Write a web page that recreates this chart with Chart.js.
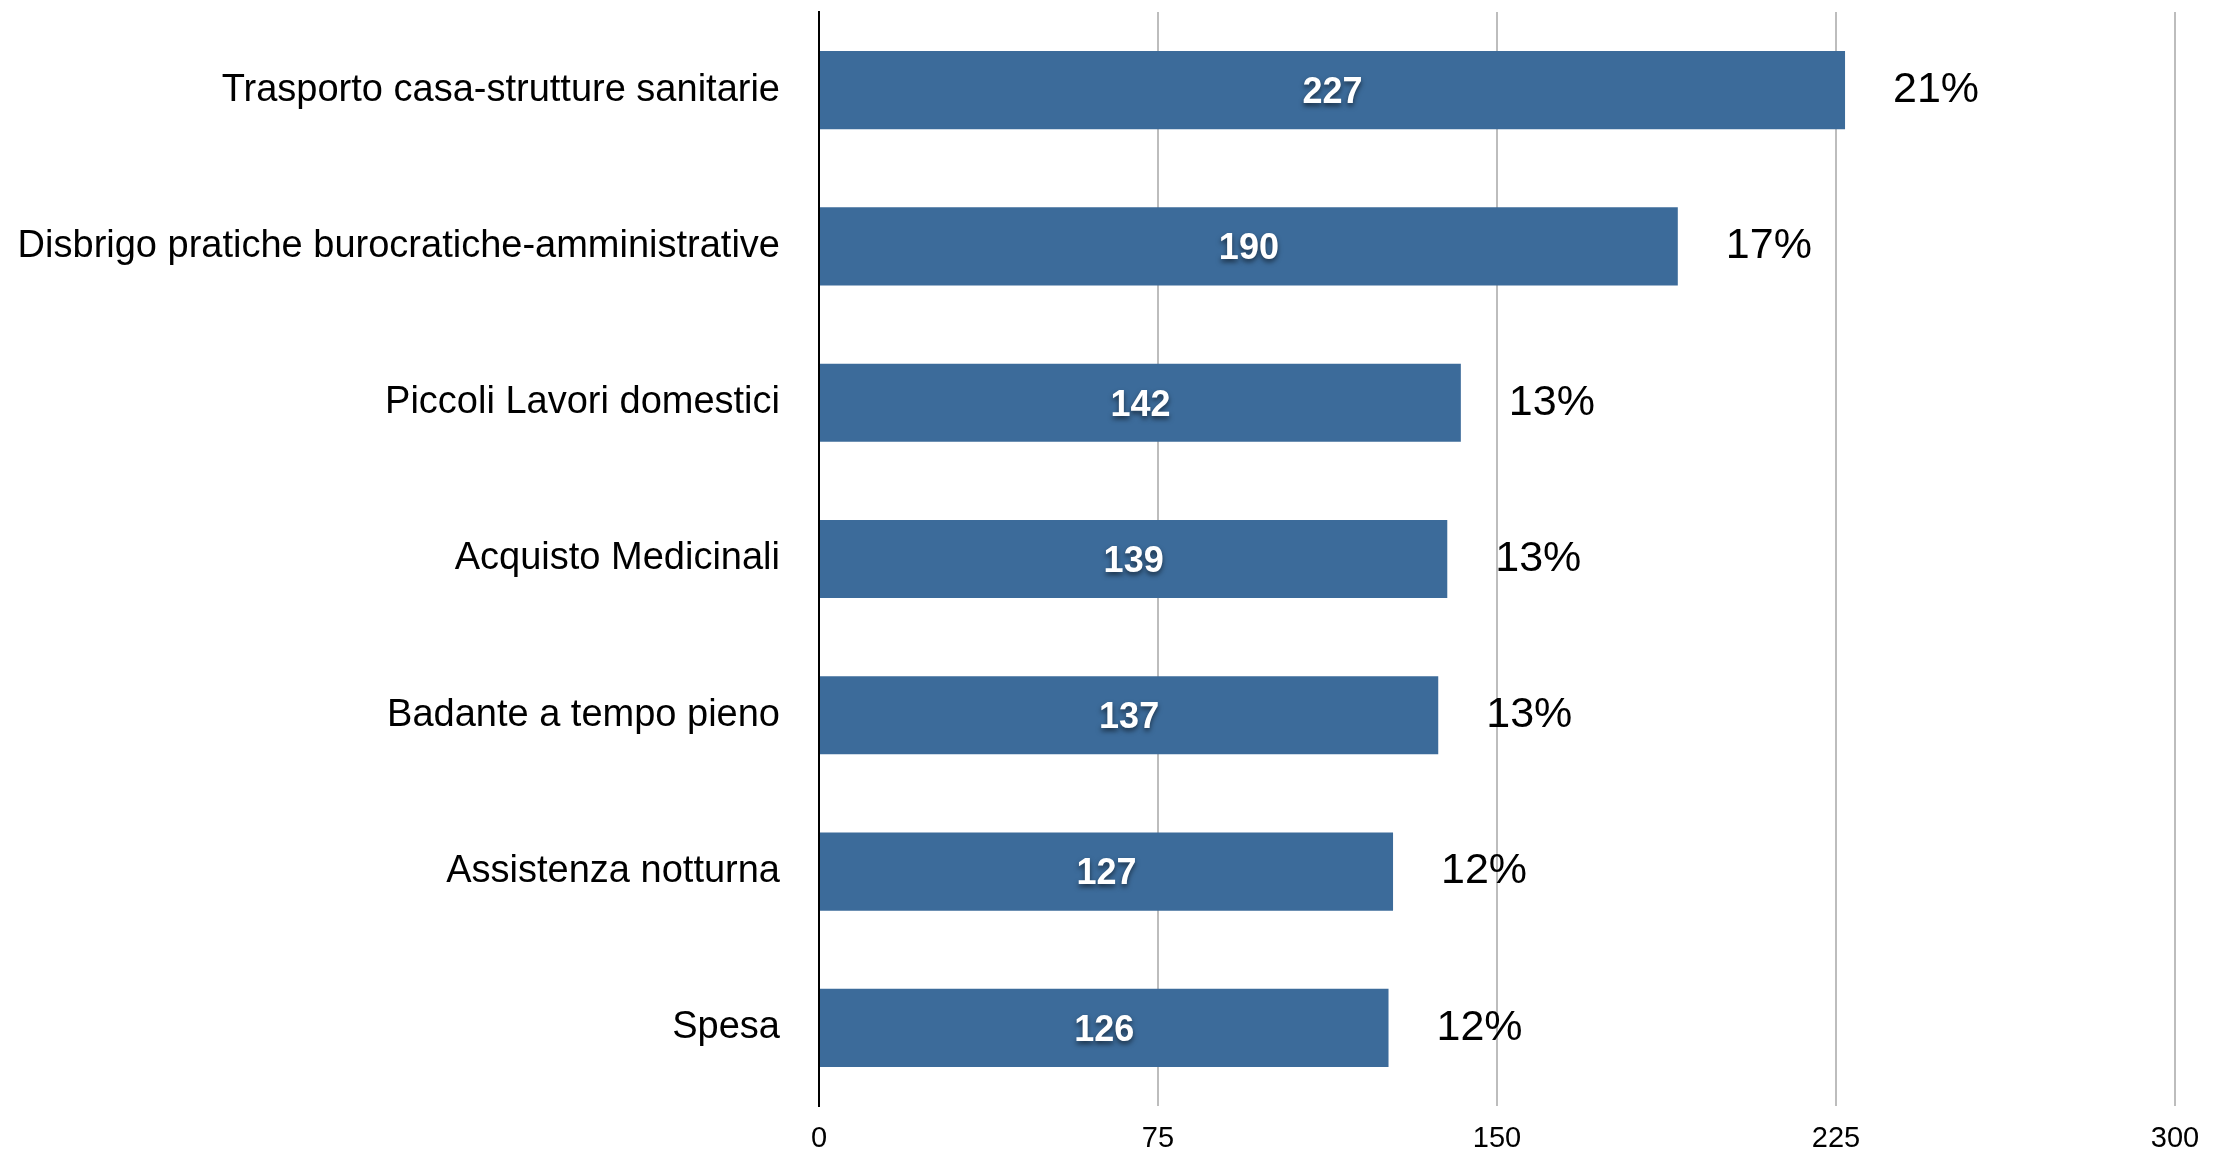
<!DOCTYPE html>
<html lang="it">
<head>
    <meta charset="UTF-8">
    <title>Servizi richiesti</title>
    <script src="https://cdn.jsdelivr.net/npm/chart.js"></script>
    <style>
        html, body { margin: 0; padding: 0; background: #ffffff; }
        .chart-container { position: relative; width: 2219px; height: 1151px; }
    </style>
</head>
<body>
    <div class="chart-container">
        <canvas id="barChart"></canvas>
    </div>

    <script>
        // Data
        const categories = [
            'Trasporto casa-strutture sanitarie',
            'Disbrigo pratiche burocratiche-amministrative',
            'Piccoli Lavori domestici',
            'Acquisto Medicinali',
            'Badante a tempo pieno',
            'Assistenza notturna',
            'Spesa'
        ];
        const counts = [227, 190, 142, 139, 137, 127, 126];
        const percentLabels = ['21%', '17%', '13%', '13%', '13%', '12%', '12%'];
        const xTicks = [0, 75, 150, 225, 300];

        const FONT = '"Liberation Sans", Arial, Helvetica, sans-serif';

        // Draw the value inside each bar and the share to the right of it
        const barLabels = {
            id: 'barLabels',
            afterDatasetsDraw(chart) {
                const ctx = chart.ctx;
                const meta = chart.getDatasetMeta(0);
                meta.data.forEach((bar, i) => {
                    const left = bar.base;
                    const right = bar.x;

                    ctx.save();
                    ctx.font = 'bold 36px ' + FONT;
                    ctx.fillStyle = '#ffffff';
                    ctx.textAlign = 'center';
                    ctx.textBaseline = 'middle';
                    ctx.shadowColor = 'rgba(0, 0, 0, 0.55)';
                    ctx.shadowOffsetY = 3;
                    ctx.shadowBlur = 5;
                    ctx.fillText(String(counts[i]), (left + right) / 2, bar.y + 3);
                    ctx.restore();

                    ctx.save();
                    ctx.font = '43px ' + FONT;
                    ctx.fillStyle = '#000000';
                    ctx.textAlign = 'left';
                    ctx.textBaseline = 'middle';
                    ctx.fillText(percentLabels[i], right + 48, bar.y);
                    ctx.restore();
                });
            }
        };

        const barCtx = document.getElementById('barChart').getContext('2d');
        const barChart = new Chart(barCtx, {
            type: 'bar',
            data: {
                labels: categories,
                datasets: [{
                    data: counts,
                    backgroundColor: '#3c6b9a',
                    borderWidth: 0,
                    barPercentage: 0.5,
                    categoryPercentage: 1.0
                }]
            },
            options: {
                indexAxis: 'y',
                responsive: true,
                maintainAspectRatio: false,
                animation: false,
                layout: {
                    padding: { top: 12, right: 44, left: 0, bottom: 0 }
                },
                plugins: {
                    legend: { display: false },
                    tooltip: { enabled: false }
                },
                scales: {
                    x: {
                        min: 0,
                        max: 300,
                        afterBuildTicks(scale) {
                            scale.ticks = xTicks.map(v => ({ value: v }));
                        },
                        afterFit(scale) {
                            scale.height = 45;
                            scale.paddingLeft = 0;
                            scale.paddingRight = 0;
                        },
                        grid: {
                            color: '#bdbdbd',
                            lineWidth: 2,
                            drawTicks: false
                        },
                        border: { display: false },
                        ticks: {
                            color: '#000000',
                            padding: 16,
                            font: { family: FONT, size: 29 }
                        }
                    },
                    y: {
                        afterFit(scale) {
                            scale.width = 819;
                            scale.paddingTop = 0;
                            scale.paddingBottom = 0;
                        },
                        grid: { display: false, drawTicks: false },
                        border: { display: true, color: '#000000', width: 2 },
                        ticks: {
                            color: '#000000',
                            padding: 39,
                            font: { family: FONT, size: 38 }
                        }
                    }
                }
            },
            plugins: [barLabels]
        });
    </script>
</body>
</html>
